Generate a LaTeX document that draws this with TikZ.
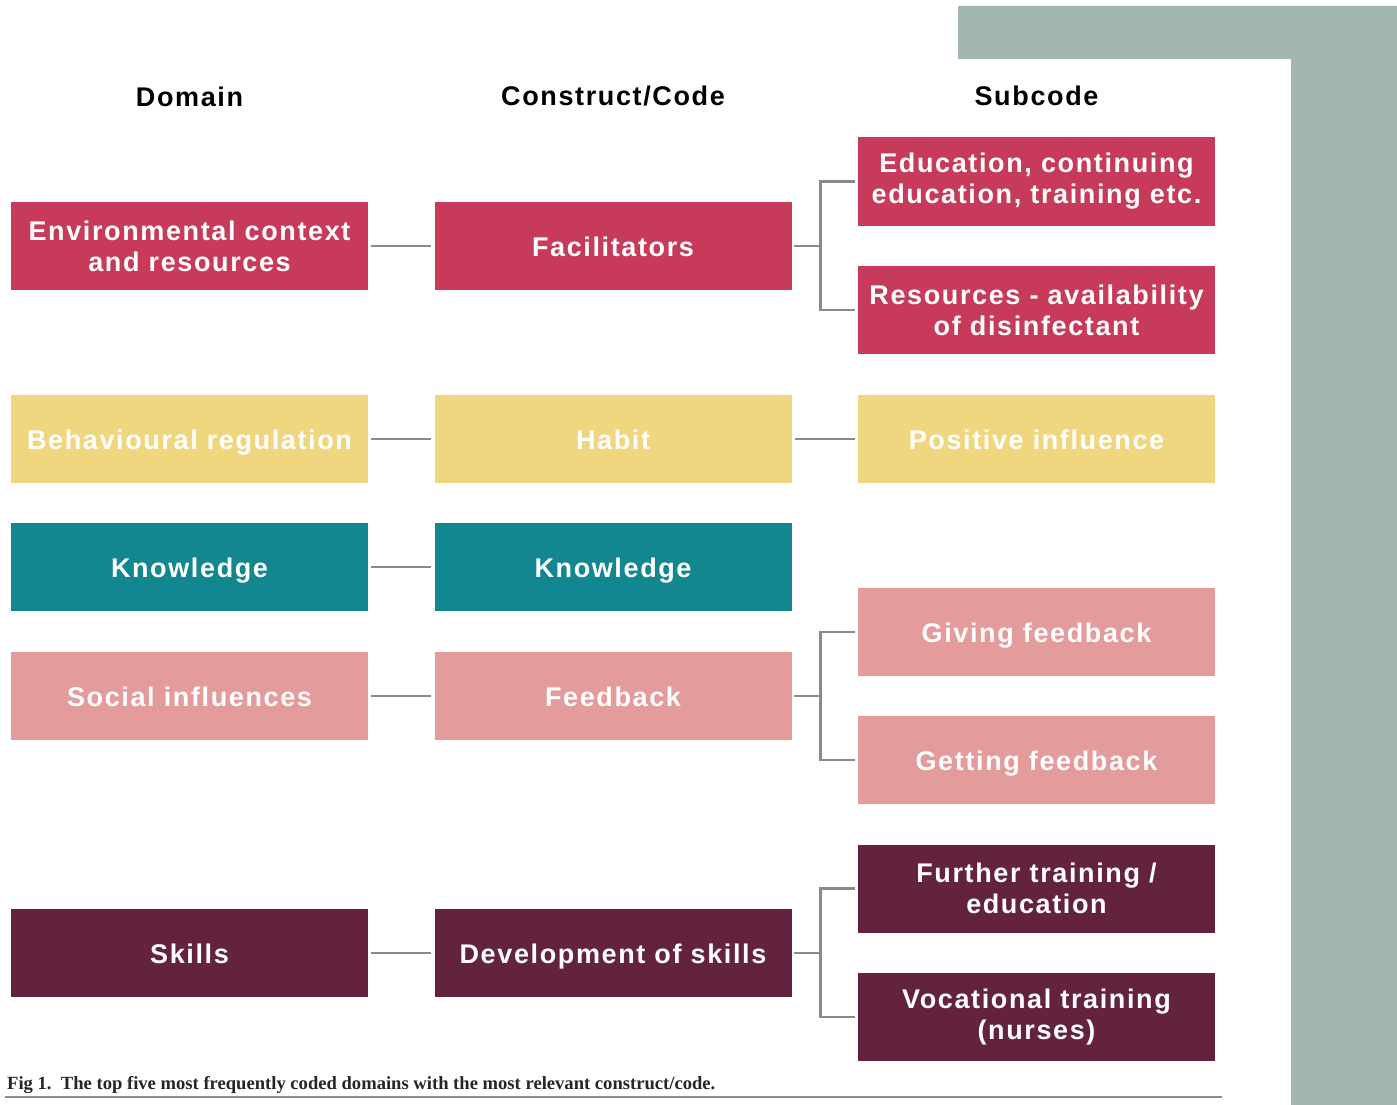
\documentclass[tikz,border=0pt]{standalone}
\usepackage{fontspec}
\setmainfont{Liberation Sans}
\newfontfamily\boxfont[LetterSpace=6]{Liberation Sans}
\newfontfamily\capfont{Liberation Serif}
\definecolor{cred}{HTML}{C83A5A}
\definecolor{cyel}{HTML}{F1D680}
\definecolor{cteal}{HTML}{12878F}
\definecolor{cpink}{HTML}{E39B9C}
\definecolor{cmaroon}{HTML}{63233E}
\definecolor{bggrey}{HTML}{A2B8AF}
\definecolor{linegrey}{HTML}{8A8A8A}
\begin{document}
\begin{tikzpicture}[x=1pt,y=-1pt,
  box/.style={minimum width=357pt, minimum height=88pt, inner sep=0pt, text=white,
    align=center, font=\boxfont\bfseries\fontsize{27}{31}\selectfont},
  oneline/.style={text height=20pt, text depth=0pt},
  head/.style={font=\boxfont\bfseries\fontsize{27}{31}\selectfont, text=black},
  conn/.style={draw=linegrey, line width=2.5pt}]
\useasboundingbox (0,0) rectangle (1397,1105);
\fill[white] (0,0) rectangle (1397,1105);
\fill[bggrey] (958,6) -- (1397,6) -- (1397,1105) -- (1291,1105) -- (1291,59) -- (958,59) -- cycle;

\node[head] (h1) at (189.5,97) {Domain};
\node[head] (h2) at (613,96) {Construct/Code};
\node[head] (h3) at (1036.5,96) {Subcode};

% row 1
\node[box, fill=cred] (env) at (189.5,246) {Environmental context\\and resources};
\node[box, oneline, fill=cred] (fac) at (613,246) {Facilitators};
\node[box, fill=cred] (edu) at (1036.5,181.5) {Education, continuing\\education, training etc.};
\node[box, fill=cred] (res) at (1036.5,310) {Resources - availability\\of disinfectant};
% row 2
\node[box, oneline, fill=cyel] (beh) at (189.5,439) {Behavioural regulation};
\node[box, oneline, fill=cyel] (hab) at (613,439) {Habit};
\node[box, oneline, fill=cyel] (pos) at (1036.5,439) {Positive influence};
% row 3
\node[box, oneline, fill=cteal] (kn1) at (189.5,567) {Knowledge};
\node[box, oneline, fill=cteal] (kn2) at (613,567) {Knowledge};
% row 4
\node[box, oneline, fill=cpink] (soc) at (189.5,696) {Social influences};
\node[box, oneline, fill=cpink] (fee) at (613,696) {Feedback};
\node[box, oneline, fill=cpink] (giv) at (1036.5,632) {Giving feedback};
\node[box, oneline, fill=cpink] (get) at (1036.5,760) {Getting feedback};
% row 5
\node[box, oneline, fill=cmaroon] (ski) at (189.5,953) {Skills};
\node[box, oneline, fill=cmaroon] (dev) at (613,953) {Development of skills};
\node[box, fill=cmaroon] (fur) at (1036.5,888.5) {Further training /\\education};
\node[box, fill=cmaroon] (voc) at (1036.5,1017) {Vocational training\\(nurses)};

% connectors
\draw[conn, shorten <=3pt, shorten >=3pt] (env.east) -- (fac.west);
\draw[conn, shorten <=3pt, shorten >=3pt] (beh.east) -- (hab.west);
\draw[conn, shorten <=3pt, shorten >=3pt] (hab.east) -- (pos.west);
\draw[conn, shorten <=3pt, shorten >=3pt] (kn1.east) -- (kn2.west);
\draw[conn, shorten <=3pt, shorten >=3pt] (soc.east) -- (fee.west);
\draw[conn, shorten <=3pt, shorten >=3pt] (ski.east) -- (dev.west);

\draw[conn, shorten <=2pt] (fac.east) -- ([xshift=29pt]fac.east);
\draw[conn, shorten <=3pt] (edu.west) -| ([xshift=29pt]fac.east) |- ([xshift=-3pt]res.west);
\draw[conn, shorten <=2pt] (fee.east) -- ([xshift=29pt]fee.east);
\draw[conn, shorten <=3pt] (giv.west) -| ([xshift=29pt]fee.east) |- ([xshift=-3pt]get.west);
\draw[conn, shorten <=2pt] (dev.east) -- ([xshift=29pt]dev.east);
\draw[conn, shorten <=3pt] (fur.west) -| ([xshift=29pt]dev.east) |- ([xshift=-3pt]voc.west);

% caption
\node[anchor=west, inner sep=0pt, font=\capfont\bfseries\fontsize{18.6}{22}\selectfont, text=black!85] (cap) at (7,1085) {Fig 1.\ \ The top five most frequently coded domains with the most relevant construct/code.};
\coordinate (rl) at (5,1097);
\coordinate (rr) at (1222,1097);
\draw[draw=black!45, line width=2pt] (rl) -- (rr);
\end{tikzpicture}
\end{document}
